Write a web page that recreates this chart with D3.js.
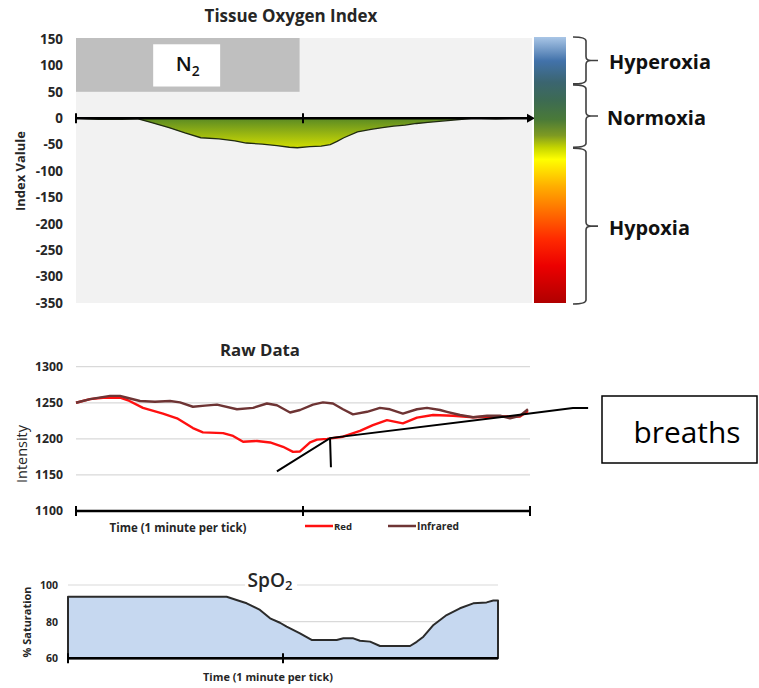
<!DOCTYPE html>
<html><head><meta charset="utf-8">
<script src="https://cdn.jsdelivr.net/npm/d3@7"></script>
<style>
body{margin:0;background:#fff;}
svg{display:block;font-family:'Open Sans',Lato,sans-serif;}
</style>
</head><body>
<svg id="c" width="759" height="688"></svg>
<script>
// ---------- DATA ----------
const timeTicks = [0, 1, 2];

// Tissue Oxygen Index
const tissueTicks = [150, 100, 50, 0, -50, -100, -150, -200, -250, -300, -350];
const tissueTime  = [0, 0.05, 0.1, 0.2, 0.27, 0.33, 0.41, 0.48, 0.55, 0.63, 0.7, 0.75, 0.82, 0.885, 0.94, 0.975, 1.03, 1.08, 1.12, 1.15, 1.18, 1.24, 1.3, 1.35, 1.4, 1.45, 1.5, 1.55, 1.6, 1.65, 1.7, 1.75, 1.85, 1.95, 2.0];
const tissueIndex = [0, -1, -2, -2, -1, -8, -18, -28, -37, -39, -43, -47, -49, -52, -55, -56, -54, -53, -50, -44, -37, -26, -21, -18, -15, -13, -10, -8, -6, -4, -2, 0, -1, 0, 0];
const gasLabel = "N";
const gasSub = "2";
const gasStart = 0, gasEnd = 0.985, gasTop = 150, gasBottom = 50;
const zoneNames  = ["Hyperoxia", "Normoxia", "Hypoxia"];
const zoneTop    = [150, 65, -55];
const zoneBottom = [65, -55, -350];

// Raw data
const rawTicks = [1100, 1150, 1200, 1250, 1300];
const redTime = [0, 0.062, 0.119, 0.194, 0.229, 0.295, 0.383, 0.445, 0.515, 0.559, 0.648, 0.692, 0.736, 0.797, 0.855, 0.912, 0.956, 0.987, 1.031, 1.062, 1.106, 1.176, 1.251, 1.308, 1.37, 1.44, 1.502, 1.573, 1.661, 1.749, 1.868, 1.956, 1.991];
const redIntensity = [1250, 1255, 1257, 1257, 1253.5, 1243, 1235, 1228.5, 1215, 1209, 1208, 1204, 1196, 1197, 1195, 1189, 1182, 1182.5, 1195, 1199, 1200, 1203, 1211, 1219, 1226, 1221.5, 1229.5, 1233, 1232, 1230, 1231, 1231, 1238.5];
const irTime = [0, 0.062, 0.15, 0.194, 0.225, 0.282, 0.348, 0.414, 0.458, 0.515, 0.568, 0.621, 0.709, 0.78, 0.841, 0.885, 0.943, 0.987, 1.044, 1.088, 1.132, 1.176, 1.22, 1.282, 1.339, 1.383, 1.44, 1.502, 1.546, 1.604, 1.634, 1.692, 1.749, 1.811, 1.868, 1.912, 1.956, 1.991];
const irIntensity = [1250, 1255, 1259.5, 1259.5, 1257, 1252.5, 1251.5, 1252.5, 1250.5, 1244.5, 1246, 1247.5, 1241, 1243, 1249, 1246.5, 1236.5, 1240, 1247.5, 1250.5, 1249, 1241, 1234, 1237.5, 1243, 1241, 1235, 1241, 1243, 1240, 1237.5, 1233, 1230, 1232, 1232, 1228.5, 1232, 1241];
const seriesNames = ["Red", "Infrared"];
// "breaths" annotation, in (time, intensity)
const breathTime = [0.885, 1.119, 2.189, 2.256];
const breathIntensity = [1155, 1201, 1242.6, 1242.6];
const breathMarkTime = [1.119, 1.123];
const breathMarkIntensity = [1201, 1160.7];
const breathLabel = "breaths";

// SpO2
const spo2Ticks = [60, 80, 100];
const spo2Time = [0, 0.738, 0.784, 0.831, 0.893, 0.94, 0.986, 1.017, 1.079, 1.133, 1.25, 1.281, 1.327, 1.358, 1.405, 1.451, 1.591, 1.622, 1.653, 1.7, 1.761, 1.823, 1.885, 1.947, 1.978, 2.0];
const spo2Value = [93.6, 93.6, 91.8, 90, 86.4, 81.8, 79.4, 77.3, 73.6, 70, 70, 70.9, 70.9, 69.6, 69.1, 66.7, 66.7, 69, 71.8, 78.2, 83.6, 87.3, 90, 90.5, 91.5, 91.5];

// colour bar stops (fraction of bar, colour)
const barOffsets = [0, 0.09, 0.17, 0.24, 0.31, 0.37, 0.415, 0.46, 0.56, 0.66, 0.76, 0.86, 1];
const barColors = ["#a9c6e6", "#4272aa", "#3b6570", "#3d6b52", "#4a7a38", "#7e9a22", "#c4d400", "#ffff00", "#ffaf00", "#ff6c00", "#ff2a00", "#ec0000", "#b00000"];

// ---------- DRAW ----------
const svg = d3.select("#c");
const defs = svg.append("defs");
const TXT = "#262626";
const plain = d => String(d);

// scale a text's font size so that it spans the given width
function fit(sel, w) {
  const node = sel.node();
  const cur = node.getComputedTextLength();
  const fs = parseFloat(sel.attr("font-size"));
  if (cur > 0) sel.attr("font-size", (fs * w / cur).toFixed(2));
  return sel;
}
function fitAll(sel, sample, w) {
  let fs = 12;
  sel.each(function () { if (this.textContent === sample) { const c = this.getComputedTextLength(); fs = parseFloat(d3.select(this).attr("font-size")) * w / c; } });
  sel.attr("font-size", fs.toFixed(2));
}

// ===== TOP CHART =====
const xT = d3.scaleLinear([0, 2], [76, 530]);
const yT = d3.scaleLinear([-350, 150], [303, 39]);

const cb = defs.append("linearGradient").attr("id", "cb")
  .attr("gradientUnits", "userSpaceOnUse")
  .attr("x1", 0).attr("x2", 0).attr("y1", yT(150) - 2).attr("y2", yT(-350));
barOffsets.forEach((o, i) => cb.append("stop").attr("offset", o).attr("stop-color", barColors[i]));

const ag = defs.append("linearGradient").attr("id", "ag")
  .attr("gradientUnits", "userSpaceOnUse")
  .attr("x1", 0).attr("x2", 0).attr("y1", yT(0)).attr("y2", yT(-57));
ag.append("stop").attr("offset", 0).attr("stop-color", "#5a8a24");
ag.append("stop").attr("offset", 1).attr("stop-color", "#d3df00");

svg.append("rect").attr("x", xT(0)).attr("y", yT(150) - 1)
  .attr("width", 532 - xT(0)).attr("height", yT(-350) - yT(150) + 1).attr("fill", "#f2f2f2");

svg.append("rect").attr("x", xT(gasStart)).attr("y", yT(gasTop) - 1)
  .attr("width", xT(gasEnd) - xT(gasStart)).attr("height", yT(gasBottom) - yT(gasTop) + 1)
  .attr("fill", "#bfbfbf");
svg.append("rect").attr("x", xT(0.34)).attr("y", yT(140))
  .attr("width", xT(0.635) - xT(0.34)).attr("height", yT(60) - yT(140)).attr("fill", "#fff");
const n2 = svg.append("text").attr("x", (xT(0.34) + xT(0.635)) / 2 + 1).attr("y", (yT(140) + yT(60)) / 2 + 6)
  .attr("text-anchor", "middle").attr("font-size", 18).attr("font-weight", 600).attr("fill", "#111");
n2.append("tspan").text(gasLabel);
n2.append("tspan").attr("font-size", "0.68em").attr("dy", 5).text(gasSub);
fit(n2, 24);

const tData = tissueTime.map((t, i) => [t, tissueIndex[i]]);
svg.append("path").datum(tData)
  .attr("d", d3.area().x(d => xT(d[0])).y0(yT(0)).y1(d => yT(d[1])))
  .attr("fill", "url(#ag)");
svg.append("path").datum(tData)
  .attr("d", d3.line().x(d => xT(d[0])).y(d => yT(d[1])))
  .attr("fill", "none").attr("stroke", "#1f2a10").attr("stroke-width", 1.3);

// zero axis with arrow
svg.append("line").attr("x1", xT(0)).attr("x2", 529).attr("y1", yT(0)).attr("y2", yT(0))
  .attr("stroke", "#000").attr("stroke-width", 2.6);
svg.append("path").attr("d", `M${527},${yT(0) - 4.5}L${535},${yT(0)}L${527},${yT(0) + 4.5}Z`).attr("fill", "#000");
[0, 1].forEach(t => svg.append("line").attr("x1", xT(t)).attr("x2", xT(t))
  .attr("y1", yT(0) - 5).attr("y2", yT(0) + 5).attr("stroke", "#000").attr("stroke-width", 2));

const ayT = svg.append("g").attr("transform", "translate(76,0)")
  .call(d3.axisLeft(yT).tickValues(tissueTicks).tickFormat(plain).tickSize(0).tickPadding(13));
ayT.select(".domain").remove();
ayT.selectAll("text").attr("font-size", 12).attr("font-weight", "bold").attr("fill", TXT).attr("font-family", "'Open Sans',Lato,sans-serif");
fitAll(ayT.selectAll("text"), "150", 23);

fit(svg.append("text").attr("transform", "translate(25,171) rotate(-90)").attr("text-anchor", "middle")
  .attr("font-size", 13).attr("font-weight", "bold").attr("fill", TXT).text("Index Valule"), 80);
fit(svg.append("text").attr("x", 291).attr("y", 22).attr("text-anchor", "middle")
  .attr("font-size", 15).attr("font-weight", "bold").attr("fill", TXT).text("Tissue Oxygen Index"), 173);

// colour bar
svg.append("rect").attr("x", 534).attr("y", yT(150) - 2).attr("width", 32)
  .attr("height", yT(-350) - yT(150) + 2).attr("fill", "url(#cb)");

// brackets
const zoneW = [102, 99, 81];
const zoneX = [609, 607, 609];
zoneNames.forEach((name, i) => {
  const y1 = yT(zoneTop[i]) - (i === 0 ? 2 : 0) + (i > 0 ? 1 : 0);
  const y2 = yT(zoneBottom[i]) + (i === 2 ? 1 : 0);
  const ym = (y1 + y2) / 2;
  const x0 = 573, x1 = 586, x2 = 591, r = 4;
  svg.append("path")
    .attr("d", `M${x0},${y1}Q${x1},${y1} ${x1},${y1 + r}L${x1},${ym - r}Q${x1},${ym} ${x2},${ym}Q${x1},${ym} ${x1},${ym + r}L${x1},${y2 - r}Q${x1},${y2} ${x0},${y2}M${x2},${ym}L598,${ym}`)
    .attr("fill", "none").attr("stroke", "#404040").attr("stroke-width", 1.6);
  fit(svg.append("text").attr("x", zoneX[i]).attr("y", ym + 1).attr("dominant-baseline", "central")
    .attr("font-size", 17).attr("font-weight", "bold").attr("fill", "#111").text(name), zoneW[i]);
});

// ===== MIDDLE CHART =====
const xM = d3.scaleLinear([0, 2], [76, 530]);
const yM = d3.scaleLinear([1100, 1300], [511, 366.7]);

rawTicks.filter(v => v > 1100).forEach(v => svg.append("line")
  .attr("x1", xM(0)).attr("x2", xM(2)).attr("y1", yM(v)).attr("y2", yM(v))
  .attr("stroke", "#d9d9d9").attr("stroke-width", 1.2));

const ayM = svg.append("g").attr("transform", "translate(76,0)")
  .call(d3.axisLeft(yM).tickValues(rawTicks).tickFormat(plain).tickSize(0).tickPadding(13));
ayM.select(".domain").remove();
ayM.selectAll("text").attr("font-size", 11.5).attr("font-weight", "bold").attr("fill", TXT).attr("font-family", "'Open Sans',Lato,sans-serif");
fitAll(ayM.selectAll("text"), "1300", 28);

const lineM = d3.line().x(d => xM(d[0])).y(d => yM(d[1]));
svg.append("path").datum(redTime.map((t, i) => [t, redIntensity[i]]))
  .attr("d", lineM).attr("fill", "none").attr("stroke", "#ff1010").attr("stroke-width", 2.4).attr("stroke-linejoin", "round");
svg.append("path").datum(irTime.map((t, i) => [t, irIntensity[i]]))
  .attr("d", lineM).attr("fill", "none").attr("stroke", "#6e3434").attr("stroke-width", 2.4).attr("stroke-linejoin", "round");

// x axis
svg.append("line").attr("x1", xM(0)).attr("x2", xM(2)).attr("y1", yM(1100)).attr("y2", yM(1100))
  .attr("stroke", "#000").attr("stroke-width", 2.4);
timeTicks.forEach(t => svg.append("line").attr("x1", xM(t)).attr("x2", xM(t))
  .attr("y1", yM(1100) - 5).attr("y2", yM(1100) + 5).attr("stroke", "#000").attr("stroke-width", 2));

fit(svg.append("text").attr("transform", "translate(27,454) rotate(-90)").attr("text-anchor", "middle")
  .attr("font-size", 13).attr("fill", TXT).text("Intensity"), 58);
fit(svg.append("text").attr("x", 260).attr("y", 356).attr("text-anchor", "middle")
  .attr("font-size", 15).attr("font-weight", "bold").attr("fill", TXT).text("Raw Data"), 80);
fit(svg.append("text").attr("x", 178).attr("y", 532).attr("text-anchor", "middle")
  .attr("font-size", 11).attr("font-weight", "bold").attr("fill", TXT).text("Time (1 minute per tick)"), 137);

// legend
const legColors = ["#ff1010", "#6e3434"];
const legX = [305, 388];
const legW = [18, 42];
seriesNames.forEach((n, i) => {
  svg.append("line").attr("x1", legX[i]).attr("x2", legX[i] + 28).attr("y1", 526).attr("y2", 526)
    .attr("stroke", legColors[i]).attr("stroke-width", 2.5);
  fit(svg.append("text").attr("x", legX[i] + 29).attr("y", 529.5).attr("font-size", 10).attr("font-weight", "bold")
    .attr("fill", TXT).text(n), legW[i]);
});

// breaths annotation
svg.append("path").datum(breathTime.map((t, i) => [t, breathIntensity[i]]))
  .attr("d", lineM).attr("fill", "none").attr("stroke", "#000").attr("stroke-width", 2);
svg.append("path").datum(breathMarkTime.map((t, i) => [t, breathMarkIntensity[i]]))
  .attr("d", lineM).attr("fill", "none").attr("stroke", "#000").attr("stroke-width", 2);
svg.append("rect").attr("x", 602).attr("y", 396).attr("width", 155).attr("height", 67)
  .attr("fill", "#fff").attr("stroke", "#000").attr("stroke-width", 1.5);
fit(svg.append("text").attr("x", 687).attr("y", 443).attr("text-anchor", "middle")
  .attr("font-size", 28).attr("fill", "#000").text(breathLabel), 107);

// ===== BOTTOM CHART =====
const xB = d3.scaleLinear([0, 2], [68, 498]);
const yB = d3.scaleLinear([60, 100], [658.3, 585]);

spo2Ticks.filter(v => v > 60).forEach(v => svg.append("line")
  .attr("x1", xB(0)).attr("x2", xB(2)).attr("y1", yB(v)).attr("y2", yB(v))
  .attr("stroke", "#d9d9d9").attr("stroke-width", 1.2));

const sData = spo2Time.map((t, i) => [t, spo2Value[i]]);
svg.append("path").datum(sData)
  .attr("d", d3.area().x(d => xB(d[0])).y0(yB(60)).y1(d => yB(d[1])))
  .attr("fill", "#c6d8f0").attr("stroke", "#2b2b2b").attr("stroke-width", 2).attr("stroke-linejoin", "round");

svg.append("line").attr("x1", xB(0)).attr("x2", xB(2)).attr("y1", yB(60)).attr("y2", yB(60))
  .attr("stroke", "#000").attr("stroke-width", 2.6);
[0, 1].forEach(t => svg.append("line").attr("x1", xB(t)).attr("x2", xB(t))
  .attr("y1", yB(60) - 5).attr("y2", yB(60) + 5).attr("stroke", "#000").attr("stroke-width", 2));

const ayB = svg.append("g").attr("transform", "translate(68,0)")
  .call(d3.axisLeft(yB).tickValues(spo2Ticks).tickFormat(plain).tickSize(0).tickPadding(10));
ayB.select(".domain").remove();
ayB.selectAll("text").attr("font-size", 10.5).attr("font-weight", "bold").attr("fill", TXT).attr("font-family", "'Open Sans',Lato,sans-serif");
fitAll(ayB.selectAll("text"), "100", 18);

svg.append("rect").attr("x", 245).attr("y", 572).attr("width", 52).attr("height", 20).attr("fill", "#fff");
const st = svg.append("text").attr("x", 270).attr("y", 587).attr("text-anchor", "middle")
  .attr("font-size", 14).attr("font-weight", 600).attr("fill", TXT);
st.append("tspan").text("SpO");
st.append("tspan").attr("font-size", "0.68em").attr("dy", 3).text("2");
fit(st, 45);

fit(svg.append("text").attr("transform", "translate(31,622) rotate(-90)").attr("text-anchor", "middle")
  .attr("font-size", 11).attr("font-weight", "bold").attr("fill", TXT).text("% Saturation"), 71);
fit(svg.append("text").attr("x", 268).attr("y", 681).attr("text-anchor", "middle")
  .attr("font-size", 11).attr("font-weight", "bold").attr("fill", TXT).text("Time (1 minute per tick)"), 130);
</script>
</body></html>
